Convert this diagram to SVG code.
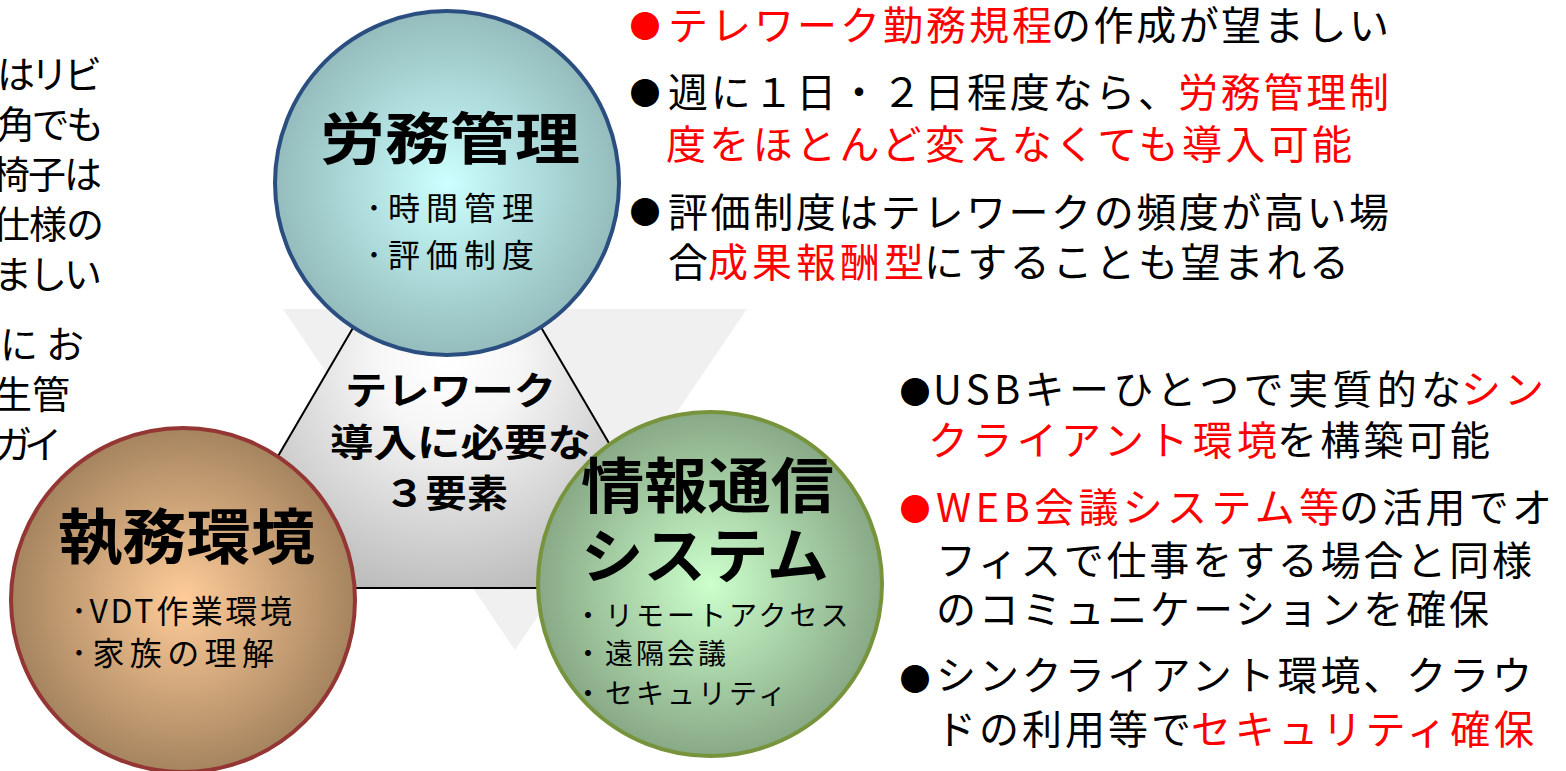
<svg xmlns="http://www.w3.org/2000/svg" width="1566" height="771" viewBox="0 0 1566 771">
<defs>
<radialGradient id="gTop" cx="50%" cy="50%" r="50%"><stop offset="0" stop-color="#ccffff"/><stop offset="1" stop-color="#94bcbc"/></radialGradient>
<radialGradient id="gLeft" cx="50%" cy="50%" r="50%"><stop offset="0" stop-color="#ffcc99"/><stop offset="1" stop-color="#a5845f"/></radialGradient>
<radialGradient id="gRight" cx="50%" cy="50%" r="50%"><stop offset="0" stop-color="#ccffcc"/><stop offset="1" stop-color="#88a986"/></radialGradient>
<radialGradient id="gTri" gradientUnits="userSpaceOnUse" cx="447" cy="360" r="240"><stop offset="0" stop-color="#ffffff"/><stop offset="0.3" stop-color="#f6f6f6"/><stop offset="1" stop-color="#bcbcbc"/></radialGradient>
<style>
text{font-family:"Noto Sans CJK JP","Noto Sans CJK SC",sans-serif;}
.t{font-weight:700;font-size:58px;fill:#000;}
.s{font-size:32px;fill:#000;}
.c{font-weight:700;font-size:38px;fill:#000;}
.n{font-size:40px;fill:#000;}
.r{fill:#ff0000;}
.b{font-size:31px;text-anchor:middle;}
.l{font-size:38px;fill:#000;}
</style>
</defs>
<rect width="1566" height="771" fill="#ffffff"/>
<polygon id="backdrop" points="283,309 747,309 515,650" fill="#f0f0f0"/>
<g id="connectors"></g>
<g id="node-center">
<polygon points="447,167 201,588 694,588" fill="url(#gTri)" stroke="#000" stroke-width="2"/>
<text class="c" x="345" y="404" textLength="211" lengthAdjust="spacingAndGlyphs">テレワーク</text>
<text class="c" x="330" y="456" textLength="261" lengthAdjust="spacingAndGlyphs">導入に必要な</text>
<text class="c" x="384" y="507" textLength="124" lengthAdjust="spacingAndGlyphs">３要素</text>
</g>
<g id="node-roumu">
<circle cx="447" cy="183" r="172" fill="url(#gTop)" stroke="#2a4e80" stroke-width="4"/>
<text class="t" x="320" y="159" textLength="260" lengthAdjust="spacingAndGlyphs" style="font-size:56px">労務管理</text>
<text class="s" x="366" y="220" textLength="168">･時間管理</text>
<text class="s" x="366" y="267" textLength="168">･評価制度</text>
</g>
<g id="node-shitsumu">
<circle cx="183" cy="600" r="172" fill="url(#gLeft)" stroke="#943634" stroke-width="4"/>
<text class="t" x="58" y="559" textLength="257" lengthAdjust="spacingAndGlyphs" style="font-size:60px">執務環境</text>
<text class="s" x="71" y="623" textLength="221">･VDT作業環境</text>
<text class="s" x="71" y="665" textLength="203">･家族の理解</text>
</g>
<g id="node-joho">
<circle cx="710" cy="584" r="172" fill="url(#gRight)" stroke="#77933c" stroke-width="4"/>
<text class="t" x="581" y="508" textLength="253" lengthAdjust="spacingAndGlyphs" style="font-size:60px">情報通信</text>
<text class="t" x="581" y="578" textLength="248" lengthAdjust="spacingAndGlyphs" style="font-size:60px">システム</text>
<text class="s" x="574" y="626" style="font-size:28px;letter-spacing:3px">・リモートアクセス</text>
<text class="s" x="574" y="664" style="font-size:28px;letter-spacing:3px">・遠隔会議</text>
<text class="s" x="574" y="704" style="font-size:28px;letter-spacing:3px">・セキュリティ</text>
</g>
<g id="notes-left">
<text class="l" x="-3" y="88" textLength="105">はリビ</text>
<text class="l" x="-3" y="138" textLength="107">角でも</text>
<text class="l" x="-8" y="188" textLength="110">椅子は</text>
<text class="l" x="-8" y="238" textLength="112">仕様の</text>
<text class="l" x="-6" y="288" textLength="108">ましい</text>
<text class="l r" x="0" y="358" textLength="84">にお</text>
<text class="l r" x="-6" y="408" textLength="76">生管</text>
<text class="l r" x="-6" y="458" textLength="68">ガイ</text>
</g>
<g id="notes-top">
<text class="b r" x="645" y="37">●</text>
<text class="n r" x="668" y="40" textLength="384">テレワーク勤務規程</text>
<text class="n" x="1051" y="40" textLength="338">の作成が望ましい</text>
<text class="b" x="645" y="104">●</text>
<text class="n" x="668" y="107" textLength="510">週に１日・２日程度なら、</text>
<text class="n r" x="1178" y="107" textLength="211">労務管理制</text>
<text class="n r" x="666" y="159" textLength="686">度をほとんど変えなくても導入可能</text>
<text class="b" x="645" y="223">●</text>
<text class="n" x="668" y="227" textLength="721">評価制度はテレワークの頻度が高い場</text>
<text class="n" x="668" y="277" textLength="40">合</text>
<text class="n r" x="708" y="277" textLength="216">成果報酬型</text>
<text class="n" x="924" y="277" textLength="425">にすることも望まれる</text>
</g>
<g id="notes-bottom">
<text class="b" x="915" y="403">●</text>
<text class="n" x="933" y="404" textLength="528">USBキーひとつで実質的な</text>
<text class="n r" x="1461" y="404" textLength="83">シン</text>
<text class="n r" x="928" y="455" textLength="349">クライアント環境</text>
<text class="n" x="1277" y="455" textLength="213">を構築可能</text>
<text class="b r" x="915" y="520">●</text>
<text class="n r" x="936" y="522" textLength="403">WEB会議システム等</text>
<text class="n" x="1339" y="522" textLength="213">の活用でオ</text>
<text class="n" x="936" y="575" textLength="596">フィスで仕事をする場合と同様</text>
<text class="n" x="936" y="624" textLength="553">のコミュニケーションを確保</text>
<text class="b" x="915" y="690">●</text>
<text class="n" x="936" y="690" textLength="596">シンクライアント環境、クラウ</text>
<text class="n" x="936" y="744" textLength="255">ドの利用等で</text>
<text class="n r" x="1191" y="744" textLength="343">セキュリティ確保</text>
</g>
</svg>
